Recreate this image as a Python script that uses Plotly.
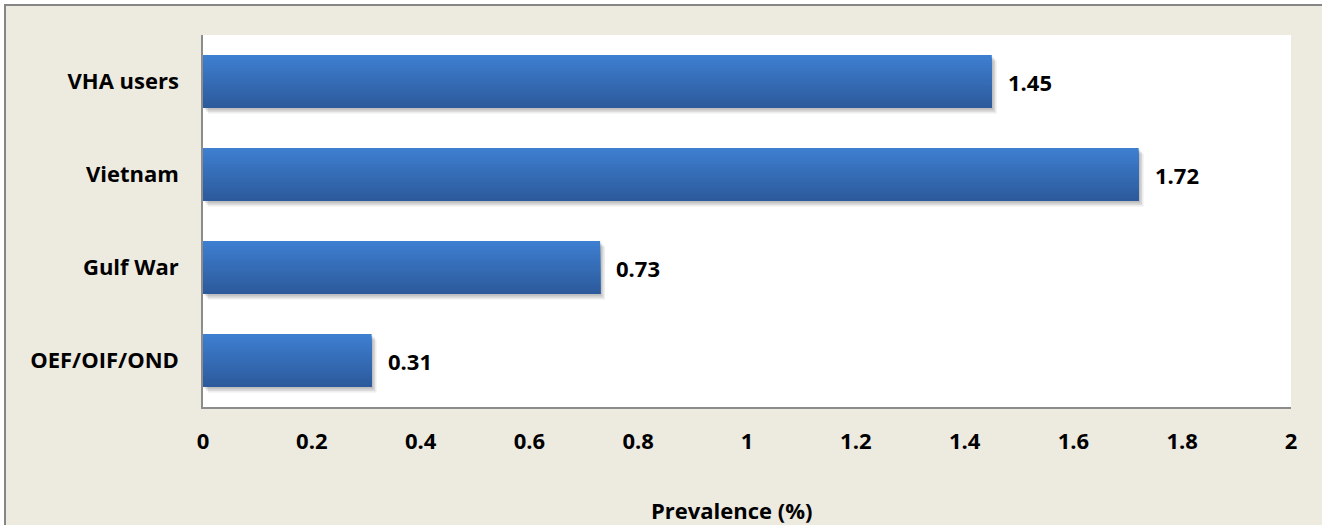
import plotly.graph_objects as go

categories = ["VHA users", "Vietnam", "Gulf War", "OEF/OIF/OND"]
values = [1.45, 1.72, 0.73, 0.31]
x_ticks = [0, 0.2, 0.4, 0.6, 0.8, 1, 1.2, 1.4, 1.6, 1.8, 2]
x_tick_labels = ["0", "0.2", "0.4", "0.6", "0.8", "1", "1.2", "1.4", "1.6", "1.8", "2"]
value_labels = ["1.45", "1.72", "0.73", "0.31"]

W, H = 1322, 525
L, R, T, B = 203, 31, 35, 118
pw, ph = W - L - R, H - T - B

def px_x(p):
    return (p - L) / pw

def px_y(p):
    return (H - B - p) / ph

FONT = dict(family="Open Sans", size=22, color="#000000", weight="bold")
BAR_W = 0.57
top_rgb = (62, 127, 208)
bot_rgb = (44, 90, 156)

fig = go.Figure()

# soft shadow (layers)
for dx, dy, a in [(0.009, 0.06, 0.07), (0.006, 0.04, 0.10), (0.003, 0.02, 0.10)]:
    fig.add_trace(go.Bar(
        y=categories, x=values, base=[dx] * len(values), orientation="h",
        width=BAR_W, offset=-BAR_W / 2 + dy,
        marker=dict(color=f"rgba(0,0,0,{a})", line=dict(width=0)),
        hoverinfo="skip", showlegend=False,
    ))

# main bars drawn as vertical-gradient layers (each covers from its start to bar bottom)
N = 20
sw = BAR_W / N
for i in range(N):
    f = i / (N - 1)
    col = tuple(round(top_rgb[k] + (bot_rgb[k] - top_rgb[k]) * f) for k in range(3))
    fig.add_trace(go.Bar(
        y=categories, x=values, orientation="h", width=BAR_W - i * sw,
        offset=-BAR_W / 2 + i * sw,
        marker=dict(color=f"rgb{col}", line=dict(width=0)),
        hoverinfo="skip" if i else None, showlegend=False,
    ))

for c, v, t in zip(categories, values, value_labels):
    fig.add_annotation(x=v, y=c, xref="x", yref="y", text=t, showarrow=False,
                       xanchor="left", yanchor="middle", xshift=14, font=FONT)

fig.add_annotation(x=px_x(732), y=px_y(510), xref="paper", yref="paper",
                   text="Prevalence (%)", showarrow=False, xanchor="center",
                   yanchor="middle", font=FONT)

# outer chart frame
fig.add_shape(type="rect", xref="paper", yref="paper",
              x0=px_x(5), x1=px_x(1340), y0=px_y(5), y1=px_y(540),
              fillcolor="#EDEAE0", line=dict(color="#868686", width=2), layer="below")
# white plot area
fig.add_shape(type="rect", xref="paper", yref="paper", x0=0, x1=1, y0=0, y1=1,
              fillcolor="#FFFFFF", line=dict(width=0), layer="below")

fig.update_layout(
    width=W, height=H,
    margin=dict(l=L, r=R, t=T, b=B),
    paper_bgcolor="#FFFFFF", plot_bgcolor="#FFFFFF",
    barmode="overlay",
    font=FONT,
    xaxis=dict(range=[0, 2], tickvals=x_ticks, ticktext=x_tick_labels,
               showgrid=False, zeroline=False, showline=True, linecolor="#8C8C8C",
               linewidth=1.5, ticks="", ticklabelstandoff=14, tickfont=FONT, fixedrange=True),
    yaxis=dict(categoryorder="array", categoryarray=categories, autorange="reversed",
               showgrid=False, zeroline=False, showline=True, linecolor="#8C8C8C",
               linewidth=1.5, ticks="", ticklabelstandoff=18, tickfont=FONT, fixedrange=True),
)

fig.write_html("out.html")
